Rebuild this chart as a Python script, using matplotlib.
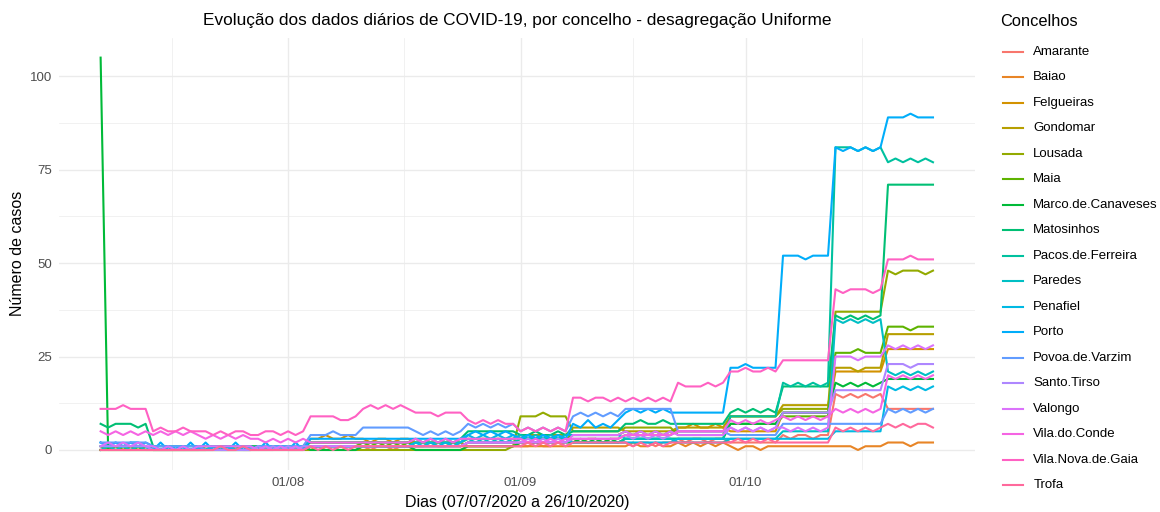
import math
import pandas as pd
import matplotlib
matplotlib.use("Agg")
import matplotlib.pyplot as plt
from matplotlib.lines import Line2D

plt.rcParams['font.family'] = ['Liberation Sans', 'DejaVu Sans']

# Daily period 07/07/2020 .. 26/10/2020
dates = pd.date_range("2020-07-07", "2020-10-26", freq="D")

concelhos = ["Amarante", "Baiao", "Felgueiras", "Gondomar", "Lousada", "Maia",
             "Marco.de.Canaveses", "Matosinhos", "Pacos.de.Ferreira", "Paredes",
             "Penafiel", "Porto", "Povoa.de.Varzim", "Santo.Tirso", "Valongo",
             "Vila.do.Conde", "Vila.Nova.de.Gaia", "Trofa"]

amarante = [
    0, 0, 1, 0, 0, 1, 0,   0, 0, 0, 0, 0, 0, 0,   0, 1, 0, 0, 1, 0, 0,   0, 0, 0, 1, 0, 0, 0,
    1, 1, 1, 1, 1, 1, 1,   1, 0, 1, 1, 0, 1, 1,   0, 0, 0, 0, 0, 0, 0,   1, 1, 1, 1, 1, 1, 1,
    1, 1, 2, 1, 1, 2, 1,   2, 2, 2, 2, 2, 2, 2,   2, 1, 2, 2, 1, 2, 2,   3, 2, 3, 3, 2, 3, 3,
    2, 2, 2, 2, 2, 2, 2,   4, 3, 4, 4, 3, 4, 4,   15, 14, 15, 14, 15, 14, 15,   11, 11, 11, 11, 11, 11, 11]
baiao = [
    0, 0, 0, 0, 0, 0, 0,   0, 0, 0, 0, 0, 0, 0,   0, 0, 0, 0, 0, 0, 0,   0, 0, 0, 0, 0, 0, 0,
    0, 1, 0, 0, 1, 0, 0,   1, 1, 1, 1, 1, 1, 1,   1, 1, 2, 1, 1, 2, 1,   2, 2, 2, 2, 2, 2, 2,
    1, 1, 1, 1, 1, 1, 1,   1, 1, 1, 1, 1, 1, 1,   1, 2, 1, 1, 2, 1, 1,   2, 1, 2, 1, 2, 1, 2,
    1, 0, 1, 1, 0, 1, 1,   1, 1, 1, 1, 1, 1, 1,   1, 1, 1, 0, 1, 1, 1,   2, 2, 2, 1, 2, 2, 2]
felgueiras = [
    0, 0, 0, 0, 0, 0, 0,   0, 0, 0, 0, 0, 0, 0,   0, 0, 0, 0, 0, 0, 0,   1, 1, 1, 1, 1, 1, 1,
    3, 3, 4, 3, 3, 4, 3,   3, 2, 3, 3, 2, 3, 3,   2, 2, 2, 2, 2, 2, 2,   1, 1, 1, 1, 1, 1, 1,
    2, 2, 2, 2, 2, 2, 2,   3, 2, 3, 3, 2, 3, 3,   4, 4, 4, 4, 4, 4, 4,   6, 6, 7, 6, 6, 7, 6,
    5, 5, 5, 5, 5, 5, 5,   10, 10, 10, 10, 10, 10, 10,   21, 21, 21, 21, 21, 21, 21,   27, 27, 27, 27, 27, 27, 27]
gondomar = [
    0, 0, 0, 0, 0, 0, 0,   0, 0, 0, 0, 0, 0, 0,   1, 1, 1, 1, 1, 1, 1,   1, 1, 1, 1, 1, 1, 1,
    2, 2, 2, 2, 2, 2, 2,   2, 2, 2, 2, 2, 2, 2,   2, 2, 2, 2, 2, 2, 2,   3, 3, 3, 3, 3, 3, 3,
    4, 4, 4, 4, 4, 4, 4,   6, 6, 6, 6, 6, 6, 6,   5, 5, 5, 5, 5, 5, 5,   6, 6, 6, 6, 6, 6, 6,
    9, 9, 9, 9, 9, 9, 9,   12, 12, 12, 12, 12, 12, 12,   22, 22, 22, 21, 22, 22, 22,   31, 31, 31, 31, 31, 31, 31]
lousada = [
    0, 0, 0, 0, 0, 0, 0,   0, 0, 0, 0, 0, 0, 0,   0, 0, 0, 0, 0, 0, 0,   0, 0, 0, 0, 0, 0, 0,
    0, 0, 0, 0, 0, 0, 0,   0, 0, 0, 0, 0, 0, 0,   0, 0, 0, 0, 0, 0, 0,   0, 0, 0, 0, 0, 0, 1,
    9, 9, 9, 10, 9, 9, 9,   5, 5, 5, 5, 5, 5, 5,   6, 6, 6, 6, 6, 6, 6,   4, 4, 4, 4, 4, 4, 4,
    9, 9, 9, 9, 9, 9, 9,   11, 11, 11, 11, 11, 11, 11,   37, 37, 37, 37, 37, 37, 37,   48, 47, 48, 48, 48, 47, 48]
maia = [
    1, 0, 1, 0, 1, 0, 1,   0, 0, 0, 0, 0, 0, 0,   0, 1, 0, 1, 0, 1, 0,   1, 0, 1, 0, 1, 0, 1,
    1, 1, 1, 1, 1, 1, 1,   2, 1, 2, 1, 2, 1, 2,   1, 1, 1, 1, 1, 1, 1,   2, 2, 2, 2, 2, 2, 2,
    3, 3, 3, 3, 3, 3, 3,   4, 4, 4, 4, 4, 4, 4,   5, 4, 5, 4, 5, 4, 5,   5, 5, 5, 5, 5, 5, 5,
    7, 7, 7, 7, 7, 7, 7,   9, 9, 9, 9, 9, 9, 9,   26, 26, 26, 27, 26, 26, 26,   33, 33, 33, 32, 33, 33, 33]
marco = [
    105, 0, 0, 0, 0, 0, 0,   0, 0, 0, 0, 0, 0, 0,   0, 0, 0, 0, 0, 0, 0,   1, 0, 1, 0, 1, 0, 1,
    0, 0, 0, 0, 0, 0, 0,   1, 1, 1, 1, 1, 1, 1,   0, 0, 0, 0, 0, 0, 0,   1, 1, 1, 1, 1, 1, 1,
    2, 2, 2, 2, 2, 2, 2,   2, 3, 2, 3, 2, 3, 2,   3, 3, 3, 3, 3, 3, 3,   3, 3, 3, 3, 3, 3, 3,
    7, 7, 7, 7, 7, 7, 7,   10, 10, 10, 10, 10, 10, 10,   18, 17, 18, 17, 18, 17, 18,   19, 19, 19, 19, 19, 19, 19]
matosinhos = [
    7, 6, 7, 7, 7, 6, 7,   1, 1, 1, 1, 1, 1, 1,   1, 1, 1, 1, 1, 1, 1,   1, 1, 1, 1, 1, 1, 1,
    2, 2, 2, 2, 2, 2, 2,   2, 2, 2, 2, 2, 2, 2,   3, 2, 3, 2, 3, 2, 3,   5, 5, 5, 5, 5, 5, 5,
    4, 4, 5, 4, 4, 5, 4,   5, 5, 5, 5, 5, 5, 5,   7, 7, 8, 7, 7, 8, 7,   7, 7, 7, 7, 7, 7, 7,
    10, 11, 10, 11, 10, 11, 10,   17, 17, 17, 17, 17, 17, 17,   36, 35, 36, 35, 36, 35, 36,   71, 71, 71, 71, 71, 71, 71]
pacos = [
    1, 1, 1, 1, 1, 1, 1,   0, 0, 0, 0, 0, 0, 0,   0, 0, 0, 0, 0, 0, 0,   0, 0, 0, 0, 0, 0, 0,
    1, 1, 1, 1, 1, 1, 1,   1, 1, 1, 1, 1, 1, 1,   1, 1, 1, 1, 1, 1, 1,   2, 2, 2, 2, 2, 2, 2,
    3, 3, 3, 3, 3, 3, 3,   2, 2, 2, 2, 2, 2, 2,   3, 3, 3, 3, 3, 3, 3,   3, 3, 3, 3, 3, 3, 3,
    9, 9, 9, 9, 9, 9, 9,   18, 17, 18, 17, 18, 17, 18,   81, 81, 81, 80, 81, 80, 81,   77, 78, 77, 78, 77, 78, 77]
paredes = [
    0, 1, 0, 1, 0, 1, 0,   1, 0, 1, 0, 1, 0, 1,   0, 1, 0, 1, 0, 1, 0,   1, 1, 1, 1, 1, 1, 1,
    1, 1, 1, 1, 1, 1, 1,   1, 1, 1, 1, 1, 1, 1,   2, 2, 2, 2, 2, 2, 2,   3, 2, 3, 2, 3, 2, 3,
    4, 3, 4, 3, 4, 3, 4,   4, 4, 4, 4, 4, 4, 4,   3, 3, 3, 3, 3, 3, 3,   2, 2, 2, 2, 2, 2, 2,
    3, 3, 3, 3, 3, 3, 3,   5, 5, 5, 5, 5, 5, 5,   35, 34, 35, 34, 35, 34, 35,   21, 20, 21, 20, 21, 20, 21]
penafiel = [
    2, 1, 2, 1, 2, 1, 2,   1, 0, 1, 0, 1, 0, 1,   0, 1, 0, 1, 0, 1, 0,   1, 0, 1, 0, 1, 0, 1,
    1, 1, 1, 1, 1, 1, 1,   1, 1, 1, 1, 1, 1, 1,   2, 1, 2, 1, 2, 1, 2,   4, 3, 4, 3, 4, 3, 4,
    3, 4, 3, 4, 3, 4, 3,   2, 2, 2, 2, 2, 2, 2,   2, 2, 2, 2, 2, 2, 2,   3, 3, 3, 3, 3, 3, 3,
    3, 3, 3, 3, 3, 3, 3,   3, 3, 3, 3, 3, 3, 3,   5, 5, 5, 5, 5, 5, 5,   17, 16, 17, 16, 17, 16, 17]
porto = [
    2, 1, 2, 1, 2, 2, 1,   0, 2, 0, 1, 0, 2, 0,   2, 0, 1, 0, 2, 0, 1,   0, 2, 0, 1, 0, 2, 0,
    3, 3, 3, 3, 3, 3, 3,   3, 3, 3, 3, 3, 3, 3,   3, 3, 3, 3, 3, 3, 3,   4, 5, 4, 5, 4, 5, 4,
    3, 4, 3, 4, 3, 4, 3,   7, 6, 8, 6, 7, 6, 8,   10, 11, 10, 11, 10, 11, 10,   10, 10, 10, 10, 10, 10, 10,
    22, 22, 23, 22, 22, 22, 22,   52, 52, 52, 51, 52, 52, 52,   81, 80, 81, 80, 81, 80, 81,   89, 89, 89, 90, 89, 89, 89]
povoa = [
    2, 2, 2, 2, 2, 2, 2,   1, 1, 1, 1, 1, 1, 1,   0, 0, 0, 0, 0, 0, 0,   1, 1, 1, 1, 1, 1, 1,
    4, 4, 4, 5, 4, 4, 4,   6, 6, 6, 6, 6, 6, 6,   5, 4, 5, 4, 5, 4, 5,   7, 6, 7, 6, 7, 6, 7,
    5, 6, 5, 6, 5, 6, 5,   9, 10, 9, 10, 9, 10, 9,   11, 11, 11, 11, 11, 11, 11,   5, 5, 5, 5, 5, 5, 5,
    4, 4, 4, 4, 4, 4, 4,   7, 7, 7, 7, 7, 7, 7,   7, 7, 7, 7, 7, 7, 7,   11, 10, 11, 10, 11, 10, 11]
santo_tirso = [
    1, 1, 1, 1, 1, 1, 1,   0, 0, 0, 0, 0, 0, 0,   0, 0, 0, 0, 0, 0, 0,   1, 0, 1, 0, 1, 0, 1,
    1, 1, 1, 1, 1, 1, 1,   1, 1, 1, 1, 1, 1, 1,   1, 1, 1, 1, 1, 1, 1,   2, 2, 2, 2, 2, 2, 2,
    2, 3, 2, 3, 2, 3, 2,   3, 3, 3, 3, 3, 3, 3,   4, 3, 4, 3, 4, 3, 4,   5, 5, 5, 5, 5, 5, 5,
    6, 5, 6, 5, 6, 5, 6,   10, 10, 10, 10, 10, 10, 10,   16, 16, 16, 16, 16, 16, 16,   23, 23, 23, 22, 23, 23, 23]
valongo = [
    1, 2, 1, 2, 1, 2, 1,   1, 0, 1, 0, 1, 0, 1,   1, 1, 1, 1, 1, 1, 1,   0, 1, 0, 1, 0, 1, 0,
    1, 1, 1, 1, 1, 1, 1,   1, 1, 1, 1, 1, 1, 1,   1, 1, 1, 1, 1, 1, 1,   2, 2, 2, 2, 2, 2, 2,
    2, 2, 2, 2, 2, 2, 2,   4, 4, 4, 4, 4, 4, 4,   5, 4, 5, 4, 5, 4, 5,   4, 4, 4, 4, 4, 4, 4,
    6, 5, 6, 5, 6, 5, 6,   6, 5, 6, 5, 6, 5, 6,   25, 25, 25, 24, 25, 25, 25,   28, 27, 28, 27, 28, 27, 28]
vila_do_conde = [
    5, 4, 5, 4, 5, 4, 5,   4, 5, 4, 5, 4, 5, 4,   3, 4, 3, 4, 3, 4, 3,   3, 2, 3, 2, 3, 2, 3,
    2, 2, 2, 2, 2, 2, 2,   2, 2, 2, 2, 2, 2, 2,   3, 2, 3, 2, 3, 2, 3,   3, 3, 3, 3, 3, 3, 3,
    3, 2, 3, 2, 3, 2, 3,   3, 3, 3, 3, 3, 3, 3,   4, 4, 4, 4, 4, 4, 4,   5, 5, 5, 5, 5, 5, 5,
    8, 7, 8, 7, 8, 7, 8,   9, 8, 9, 8, 9, 8, 9,   11, 10, 11, 10, 11, 10, 11,   20, 19, 20, 19, 20, 19, 20]
vila_nova_de_gaia = [
    11, 11, 11, 12, 11, 11, 11,   5, 6, 5, 5, 6, 5, 5,   5, 4, 5, 4, 5, 5, 4,   4, 5, 5, 4, 5, 4, 5,
    9, 9, 9, 9, 8, 8, 9,   11, 12, 11, 12, 11, 12, 11,   10, 10, 10, 9, 10, 10, 10,   8, 7, 8, 7, 8, 7, 7,
    5, 6, 5, 6, 5, 6, 5,   14, 14, 13, 14, 14, 13, 14,   13, 14, 13, 14, 13, 14, 13,   18, 17, 17, 17, 18, 17, 18,
    21, 21, 22, 21, 21, 22, 21,   24, 24, 24, 24, 24, 24, 24,   43, 42, 43, 43, 43, 42, 43,   51, 51, 51, 52, 51, 51, 51]
trofa = [
    0, 0, 0, 0, 0, 0, 0,   0, 0, 0, 0, 0, 0, 0,   0, 0, 1, 0, 0, 1, 0,   0, 0, 0, 0, 0, 0, 0,
    1, 0, 1, 0, 1, 0, 1,   1, 1, 1, 1, 1, 1, 1,   1, 1, 1, 1, 1, 1, 1,   1, 1, 1, 1, 1, 1, 1,
    1, 2, 1, 2, 1, 2, 1,   2, 2, 2, 2, 2, 2, 2,   2, 1, 2, 1, 2, 1, 2,   2, 2, 2, 2, 2, 2, 2,
    2, 3, 2, 3, 2, 3, 2,   2, 2, 2, 2, 2, 2, 2,   6, 5, 6, 5, 6, 5, 6,   7, 6, 7, 6, 7, 7, 6]

series = [amarante, baiao, felgueiras, gondomar, lousada, maia, marco, matosinhos,
          pacos, paredes, penafiel, porto, povoa, santo_tirso, valongo,
          vila_do_conde, vila_nova_de_gaia, trofa]

y_breaks = [0, 25, 50, 75, 100]
x_breaks = pd.to_datetime(["2020-08-01", "2020-09-01", "2020-10-01"])
x_labels = ["01/08", "01/09", "01/10"]


def hcl_hex(h, c=100.0, l=65.0):
    """Polar CIE-Luv colour to sRGB hex (D65 white)."""
    hr = math.radians(h)
    U, V = c * math.cos(hr), c * math.sin(hr)
    Xn, Yn, Zn = 95.047, 100.0, 108.883
    den = Xn + 15 * Yn + 3 * Zn
    un, vn = 4 * Xn / den, 9 * Yn / den
    Y = Yn * ((l + 16) / 116) ** 3
    u = U / (13 * l) + un
    v = V / (13 * l) + vn
    X = 9.0 * Y * u / (4 * v)
    Z = -X / 3 - 5 * Y + 3 * Y / v
    X, Y, Z = X / 100, Y / 100, Z / 100
    rgb = [3.240479 * X - 1.537150 * Y - 0.498535 * Z,
           -0.969256 * X + 1.875992 * Y + 0.041556 * Z,
           0.055648 * X - 0.204043 * Y + 1.057311 * Z]
    out = []
    for ch in rgb:
        ch = 12.92 * ch if ch <= 0.0031308 else 1.055 * ch ** (1 / 2.4) - 0.055
        out.append(min(max(ch, 0.0), 1.0))
    return "#%02x%02x%02x" % tuple(int(round(x * 255)) for x in out)


n = len(concelhos)
colors = [hcl_hex(15 + 360.0 * i / n) for i in range(n)]

W, H = 1160, 512
fig = plt.figure(figsize=(W / 100, H / 100), dpi=100)
fig.patch.set_facecolor("white")

left, right, top, bottom = 59, 974.6, 38, 469.6
ax = fig.add_axes([left / W, 1 - bottom / H, (right - left) / W, (bottom - top) / H])
ax.set_facecolor("white")

for vals, col in zip(series, colors):
    ax.plot(dates, vals, color=col, lw=1.5, solid_joinstyle="round", zorder=3)

# 5% expansion like ggplot default scales
span = dates[-1] - dates[0]
ax.set_xlim(dates[0] - span * 0.05, dates[-1] + span * 0.05)
ymax = max(max(s) for s in series)
ax.set_ylim(-0.05 * ymax, ymax * 1.05)

ax.set_yticks(y_breaks)
ax.set_yticks([12.5, 37.5, 62.5, 87.5], minor=True)
ax.set_xticks(x_breaks)
ax.set_xticklabels(x_labels)
minor_x = pd.to_datetime(["2020-07-16 12:00", "2020-08-16 12:00",
                          "2020-09-16 00:00", "2020-10-16 12:00"])
ax.set_xticks(minor_x, minor=True)

ax.grid(True, which="major", color="#ebebeb", lw=1.0, zorder=0)
ax.grid(True, which="minor", color="#ebebeb", lw=0.5, zorder=0)
for s in ax.spines.values():
    s.set_visible(False)
ax.tick_params(which="both", length=0)
ax.tick_params(axis="y", labelsize=9.5, labelcolor="#4d4d4d", pad=5)
ax.tick_params(axis="x", labelsize=9.5, labelcolor="#4d4d4d", pad=5)

fig.text((left + right) / 2 / W, 1 - 20 / H,
         "Evolução dos dados diários de COVID-19, por concelho - desagregação Uniforme",
         ha="center", va="center", fontsize=12.4, color="black")
fig.text((left + right) / 2 / W, 1 - 502 / H, "Dias (07/07/2020 a 26/10/2020)",
         ha="center", va="center", fontsize=11.5, color="black")
fig.text(18 / W, 1 - (top + bottom) / 2 / H, "Número de casos", rotation=90,
         ha="center", va="center", fontsize=11.5, color="black")

# legend
fig.text(1000.5 / W, 1 - 21.5 / H, "Concelhos", ha="left", va="center",
         fontsize=11.8, color="black")
for i, (name, col) in enumerate(zip(concelhos, colors)):
    yy = 1 - (51.7 + 25.5 * i) / H
    fig.add_artist(Line2D([1002.7 / W, 1023.3 / W], [yy, yy], color=col, lw=1.5,
                          transform=fig.transFigure))
    fig.text(1033.3 / W, yy, name, ha="left", va="center", fontsize=9.5, color="black")

fig.savefig("out.png", dpi=100, facecolor="white")
